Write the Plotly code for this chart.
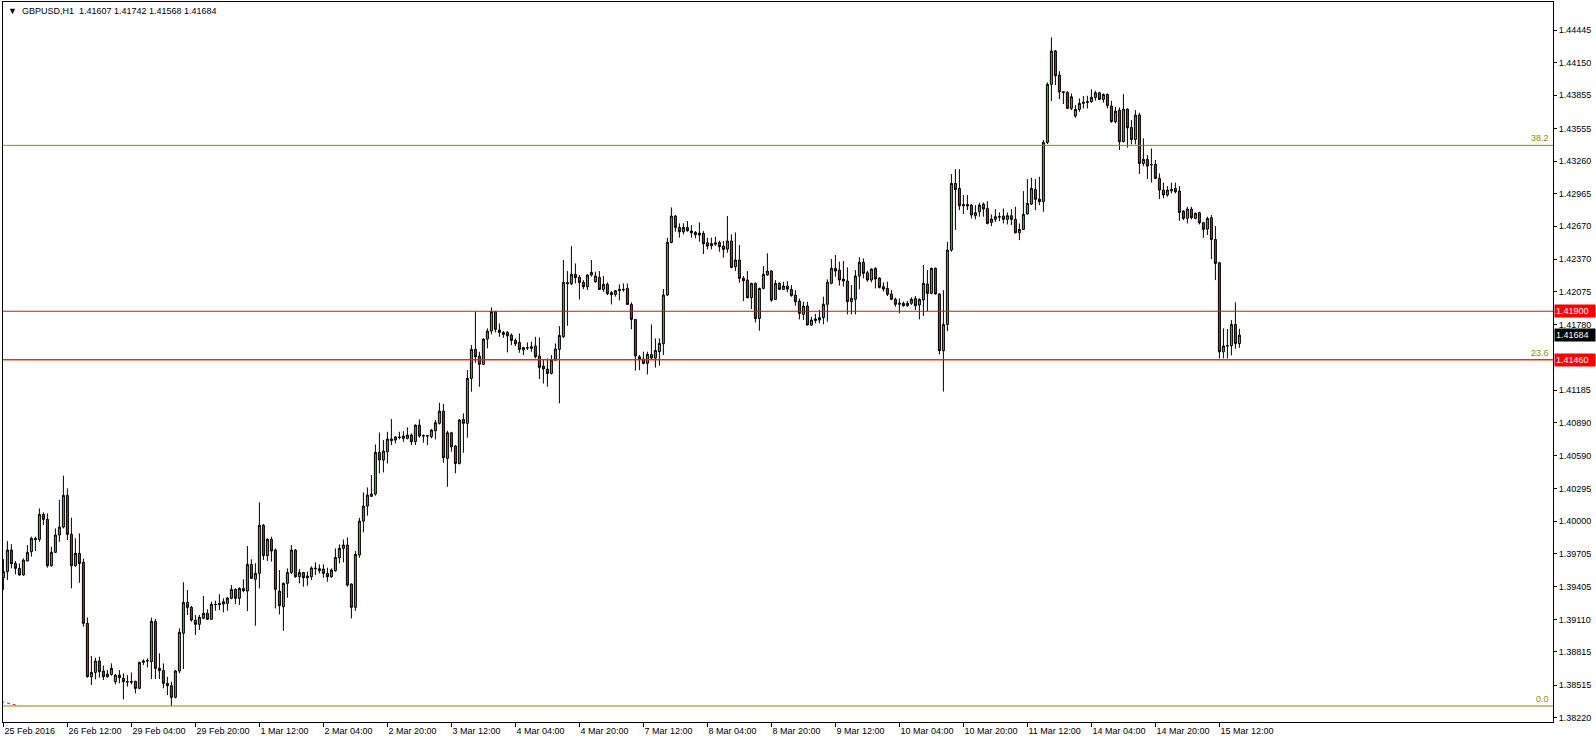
import plotly.graph_objects as go

symbol = "GBPUSD"
timeframe = "H1"

opens = [
    1.39487, 1.39542, 1.39738, 1.39617, 1.39572, 1.39512, 1.39638, 1.39723, 1.39831, 1.39834,
    1.40061, 1.40016, 1.39596, 1.39717, 1.39874, 1.39946, 1.40233, 1.39880, 1.39596, 1.39708,
    1.39626, 1.39074, 1.38591, 1.38630, 1.38733, 1.38642, 1.38591, 1.38612, 1.38546, 1.38606,
    1.38576, 1.38546, 1.38546, 1.38549, 1.38486, 1.38721, 1.38733, 1.38727, 1.39092, 1.38667,
    1.38646, 1.38531, 1.38510, 1.38404, 1.38643, 1.38984, 1.39264, 1.39219, 1.39104, 1.39065,
    1.39120, 1.39165, 1.39111, 1.39246, 1.39243, 1.39249, 1.39255, 1.39301, 1.39382, 1.39301,
    1.39391, 1.39367, 1.39608, 1.39473, 1.39527, 1.39962, 1.39687, 1.39835, 1.39738, 1.39366,
    1.39225, 1.39436, 1.39535, 1.39738, 1.39496, 1.39535, 1.39502, 1.39496, 1.39575, 1.39569,
    1.39566, 1.39526, 1.39496, 1.39551, 1.39668, 1.39753, 1.39783, 1.39430, 1.39219, 1.39692,
    1.40000, 1.40136, 1.40224, 1.40245, 1.40622, 1.40553, 1.40628, 1.40743, 1.40734, 1.40761,
    1.40770, 1.40749, 1.40779, 1.40719, 1.40869, 1.40770, 1.40773, 1.40764, 1.40818, 1.40885,
    1.40996, 1.40568, 1.40800, 1.40679, 1.40522, 1.40921, 1.40885, 1.41292, 1.41555, 1.41494,
    1.41419, 1.41648, 1.41721, 1.41896, 1.41730, 1.41708, 1.41708, 1.41684, 1.41636, 1.41618,
    1.41551, 1.41570, 1.41564, 1.41585, 1.41494, 1.41404, 1.41377, 1.41337, 1.41458, 1.41555,
    1.41669, 1.42161, 1.42149, 1.42234, 1.42207, 1.42161, 1.42122, 1.42228, 1.42167, 1.42207,
    1.42098, 1.42143, 1.42068, 1.42053, 1.42086, 1.42098, 1.42107, 1.41962, 1.41826, 1.41488,
    1.41467, 1.41428, 1.41509, 1.41476, 1.41534, 1.41606, 1.42047, 1.42523, 1.42762, 1.42659,
    1.42620, 1.42659, 1.42626, 1.42614, 1.42608, 1.42605, 1.42520, 1.42493, 1.42520, 1.42523,
    1.42490, 1.42463, 1.42536, 1.42303, 1.42364, 1.42198, 1.42182, 1.42023, 1.42152, 1.41835,
    1.42107, 1.42228, 1.42264, 1.42007, 1.42152, 1.42098, 1.42128, 1.42098, 1.42047, 1.41992,
    1.41872, 1.41947, 1.41775, 1.41815, 1.41821, 1.41842, 1.41963, 1.42153, 1.42289, 1.42273,
    1.42192, 1.42174, 1.41987, 1.42008, 1.42219, 1.42343, 1.42249, 1.42183, 1.42288, 1.42201,
    1.42122, 1.42107, 1.42056, 1.42008, 1.41963, 1.41972, 1.41950, 1.41972, 1.42014, 1.41957,
    1.42002, 1.42147, 1.42062, 1.42289, 1.42056, 1.41543, 1.41781, 1.42454, 1.43057, 1.43012,
    1.42867, 1.42867, 1.42861, 1.42765, 1.42801, 1.42870, 1.42831, 1.42704, 1.42732, 1.42756,
    1.42762, 1.42732, 1.42765, 1.42732, 1.42611, 1.42641, 1.42780, 1.42870, 1.43003, 1.42916,
    1.42892, 1.43429, 1.43954, 1.44256, 1.44038, 1.43887, 1.43881, 1.43737, 1.43667, 1.43727,
    1.43782, 1.43791, 1.43797, 1.43836, 1.43878, 1.43818, 1.43863, 1.43758, 1.43616, 1.43721,
    1.43435, 1.43730, 1.43564, 1.43456, 1.43676, 1.43238, 1.43275, 1.43229, 1.43229, 1.43103,
    1.42997, 1.42952, 1.42991, 1.43012, 1.42988, 1.42807, 1.42741, 1.42825, 1.42741, 1.42792,
    1.42701, 1.42644, 1.42747, 1.42550, 1.42339, 1.41533, 1.41585, 1.41588, 1.41780, 1.41607,
]

highs = [
    1.39656, 1.39819, 1.39792, 1.39638, 1.39617, 1.39662, 1.39783, 1.39859, 1.39859, 1.40115,
    1.40079, 1.40070, 1.39768, 1.39934, 1.40191, 1.40411, 1.40296, 1.40031, 1.39844, 1.39889,
    1.39662, 1.39128, 1.38778, 1.38763, 1.38772, 1.38691, 1.38651, 1.38712, 1.38615, 1.38651,
    1.38621, 1.38606, 1.38630, 1.38555, 1.38727, 1.38748, 1.38757, 1.39126, 1.39114, 1.38803,
    1.38712, 1.38591, 1.38546, 1.38652, 1.39029, 1.39446, 1.39376, 1.39231, 1.39150, 1.39150,
    1.39322, 1.39201, 1.39270, 1.39280, 1.39337, 1.39301, 1.39310, 1.39421, 1.39391, 1.39400,
    1.39473, 1.39774, 1.39654, 1.39618, 1.40170, 1.39974, 1.39844, 1.39859, 1.39753, 1.39557,
    1.39445, 1.39572, 1.39783, 1.39747, 1.39566, 1.39540, 1.39542, 1.39590, 1.39626, 1.39608,
    1.39608, 1.39578, 1.39572, 1.39753, 1.39789, 1.39834, 1.39852, 1.39436, 1.39729, 1.40030,
    1.40260, 1.40305, 1.40417, 1.40694, 1.40803, 1.40734, 1.40809, 1.40924, 1.40770, 1.40809,
    1.40815, 1.40848, 1.40794, 1.40875, 1.40921, 1.40785, 1.40776, 1.40833, 1.40915, 1.41072,
    1.41060, 1.40818, 1.40809, 1.40688, 1.40924, 1.40975, 1.41367, 1.41594, 1.41896, 1.41533,
    1.41654, 1.41745, 1.41935, 1.41902, 1.41790, 1.41721, 1.41721, 1.41699, 1.41654, 1.41699,
    1.41579, 1.41618, 1.41624, 1.41669, 1.41663, 1.41460, 1.41473, 1.41503, 1.41609, 1.41766,
    1.42364, 1.42264, 1.42490, 1.42333, 1.42228, 1.42182, 1.42234, 1.42364, 1.42258, 1.42264,
    1.42219, 1.42161, 1.42083, 1.42092, 1.42143, 1.42152, 1.42152, 1.41980, 1.41829, 1.41503,
    1.41534, 1.41534, 1.41781, 1.41654, 1.41654, 1.42101, 1.42566, 1.42840, 1.42771, 1.42696,
    1.42696, 1.42717, 1.42680, 1.42626, 1.42705, 1.42626, 1.42566, 1.42566, 1.42575, 1.42539,
    1.42536, 1.42762, 1.42596, 1.42614, 1.42499, 1.42219, 1.42264, 1.42158, 1.42161, 1.42113,
    1.42309, 1.42424, 1.42273, 1.42182, 1.42161, 1.42167, 1.42173, 1.42137, 1.42092, 1.42016,
    1.41986, 1.41986, 1.41850, 1.41875, 1.41911, 1.42032, 1.42189, 1.42373, 1.42409, 1.42349,
    1.42355, 1.42298, 1.42138, 1.42273, 1.42388, 1.42379, 1.42267, 1.42288, 1.42298, 1.42207,
    1.42162, 1.42168, 1.42092, 1.42023, 1.42017, 1.41987, 1.41993, 1.42026, 1.42038, 1.42017,
    1.42319, 1.42273, 1.42295, 1.42295, 1.42062, 1.42092, 1.42529, 1.43142, 1.43187, 1.43187,
    1.42952, 1.42952, 1.42870, 1.42861, 1.42882, 1.42885, 1.42897, 1.42777, 1.42825, 1.42795,
    1.42831, 1.42795, 1.42825, 1.42846, 1.42695, 1.42988, 1.43097, 1.43109, 1.43097, 1.43118,
    1.43450, 1.43972, 1.44379, 1.44265, 1.44074, 1.43893, 1.43893, 1.43872, 1.43767, 1.43827,
    1.43848, 1.43851, 1.43909, 1.43896, 1.43887, 1.43872, 1.43872, 1.43806, 1.43752, 1.43746,
    1.43866, 1.43736, 1.43631, 1.43721, 1.43697, 1.43465, 1.43314, 1.43374, 1.43269, 1.43148,
    1.43064, 1.43033, 1.43064, 1.43064, 1.43033, 1.42816, 1.42846, 1.42846, 1.42795, 1.42801,
    1.42710, 1.42756, 1.42771, 1.42671, 1.42348, 1.41745, 1.41739, 1.41820, 1.41980, 1.41742,
]

lows = [
    1.39376, 1.39466, 1.39572, 1.39518, 1.39506, 1.39506, 1.39638, 1.39678, 1.39729, 1.39813,
    1.39964, 1.39578, 1.39587, 1.39711, 1.39813, 1.39934, 1.39828, 1.39391, 1.39587, 1.39442,
    1.39044, 1.38582, 1.38516, 1.38567, 1.38582, 1.38561, 1.38582, 1.38600, 1.38522, 1.38531,
    1.38386, 1.38501, 1.38522, 1.38440, 1.38477, 1.38697, 1.38676, 1.38570, 1.38570, 1.38570,
    1.38486, 1.38425, 1.38326, 1.38395, 1.38622, 1.38661, 1.39150, 1.39089, 1.38969, 1.39014,
    1.39111, 1.39104, 1.39104, 1.39189, 1.39195, 1.39174, 1.39189, 1.39292, 1.39249, 1.39240,
    1.39355, 1.39186, 1.39476, 1.39053, 1.39391, 1.39648, 1.39639, 1.39633, 1.39210, 1.39155,
    1.39007, 1.39306, 1.39520, 1.39487, 1.39436, 1.39406, 1.39415, 1.39466, 1.39511, 1.39526,
    1.39487, 1.39451, 1.39487, 1.39542, 1.39617, 1.39626, 1.39406, 1.39119, 1.39188, 1.39668,
    1.39898, 1.40049, 1.40221, 1.40230, 1.40432, 1.40441, 1.40522, 1.40688, 1.40703, 1.40740,
    1.40718, 1.40740, 1.40688, 1.40688, 1.40755, 1.40710, 1.40688, 1.40749, 1.40740, 1.40875,
    1.40528, 1.40311, 1.40628, 1.40432, 1.40513, 1.40619, 1.40755, 1.41171, 1.41434, 1.41217,
    1.41413, 1.41564, 1.41690, 1.41708, 1.41669, 1.41660, 1.41527, 1.41594, 1.41585, 1.41524,
    1.41503, 1.41548, 1.41533, 1.41473, 1.41286, 1.41245, 1.41217, 1.41328, 1.41449, 1.41066,
    1.41660, 1.41769, 1.42137, 1.42152, 1.42007, 1.42101, 1.42092, 1.42213, 1.42158, 1.42092,
    1.42077, 1.42047, 1.41962, 1.42032, 1.41998, 1.42077, 1.41956, 1.41736, 1.41362, 1.41368,
    1.41419, 1.41328, 1.41458, 1.41389, 1.41407, 1.41503, 1.42038, 1.42514, 1.42620, 1.42566,
    1.42596, 1.42620, 1.42566, 1.42560, 1.42530, 1.42418, 1.42460, 1.42460, 1.42490, 1.42439,
    1.42385, 1.42430, 1.42288, 1.42264, 1.42158, 1.41992, 1.42017, 1.41920, 1.41799, 1.41724,
    1.42098, 1.42222, 1.41986, 1.42001, 1.42092, 1.42092, 1.42071, 1.42032, 1.41950, 1.41826,
    1.41820, 1.41772, 1.41769, 1.41790, 1.41790, 1.41781, 1.41806, 1.42144, 1.42213, 1.42132,
    1.42122, 1.41872, 1.41872, 1.41872, 1.42098, 1.42198, 1.42168, 1.42162, 1.42107, 1.42107,
    1.42077, 1.42038, 1.42002, 1.41941, 1.41881, 1.41941, 1.41941, 1.41957, 1.41911, 1.41827,
    1.41857, 1.41902, 1.42053, 1.42053, 1.41510, 1.41172, 1.41720, 1.42439, 1.42635, 1.42816,
    1.42780, 1.42816, 1.42741, 1.42732, 1.42756, 1.42756, 1.42686, 1.42671, 1.42710, 1.42716,
    1.42695, 1.42686, 1.42680, 1.42605, 1.42544, 1.42635, 1.42777, 1.42861, 1.42816, 1.42861,
    1.42801, 1.43414, 1.43803, 1.43948, 1.43821, 1.43776, 1.43731, 1.43722, 1.43652, 1.43706,
    1.43736, 1.43736, 1.43788, 1.43806, 1.43812, 1.43788, 1.43736, 1.43607, 1.43601, 1.43359,
    1.43429, 1.43380, 1.43411, 1.43411, 1.43142, 1.43214, 1.43097, 1.43066, 1.43097, 1.42916,
    1.42922, 1.42937, 1.42967, 1.42967, 1.42719, 1.42725, 1.42695, 1.42732, 1.42732, 1.42686,
    1.42566, 1.42590, 1.42372, 1.42182, 1.41473, 1.41473, 1.41473, 1.41500, 1.41560, 1.41568,
]

closes = [
    1.39542, 1.39738, 1.39614, 1.39572, 1.39512, 1.39647, 1.39717, 1.39844, 1.39844, 1.40061,
    1.40016, 1.39596, 1.39717, 1.39874, 1.39946, 1.40233, 1.39880, 1.39596, 1.39708, 1.39617,
    1.39074, 1.38591, 1.38630, 1.38733, 1.38636, 1.38591, 1.38615, 1.38667, 1.38606, 1.38582,
    1.38546, 1.38543, 1.38543, 1.38485, 1.38721, 1.38733, 1.38736, 1.39092, 1.38667, 1.38646,
    1.38531, 1.38510, 1.38404, 1.38643, 1.38993, 1.39264, 1.39219, 1.39104, 1.39065, 1.39129,
    1.39165, 1.39111, 1.39246, 1.39243, 1.39255, 1.39270, 1.39304, 1.39382, 1.39301, 1.39391,
    1.39370, 1.39608, 1.39482, 1.39527, 1.39962, 1.39687, 1.39835, 1.39729, 1.39382, 1.39234,
    1.39436, 1.39535, 1.39738, 1.39496, 1.39535, 1.39487, 1.39487, 1.39575, 1.39569, 1.39551,
    1.39526, 1.39496, 1.39557, 1.39671, 1.39753, 1.39783, 1.39421, 1.39219, 1.39698, 1.40000,
    1.40136, 1.40236, 1.40245, 1.40622, 1.40553, 1.40634, 1.40743, 1.40728, 1.40761, 1.40758,
    1.40749, 1.40779, 1.40719, 1.40869, 1.40770, 1.40773, 1.40770, 1.40824, 1.40891, 1.40996,
    1.40574, 1.40800, 1.40673, 1.40522, 1.40915, 1.40885, 1.41292, 1.41555, 1.41488, 1.41419,
    1.41648, 1.41721, 1.41896, 1.41736, 1.41708, 1.41690, 1.41678, 1.41636, 1.41606, 1.41555,
    1.41570, 1.41567, 1.41579, 1.41488, 1.41392, 1.41377, 1.41337, 1.41458, 1.41558, 1.41681,
    1.42161, 1.42149, 1.42234, 1.42204, 1.42161, 1.42122, 1.42228, 1.42252, 1.42219, 1.42098,
    1.42143, 1.42059, 1.42050, 1.42086, 1.42098, 1.42095, 1.41962, 1.41826, 1.41497, 1.41467,
    1.41428, 1.41509, 1.41476, 1.41546, 1.41609, 1.42047, 1.42523, 1.42762, 1.42659, 1.42620,
    1.42659, 1.42629, 1.42611, 1.42593, 1.42590, 1.42511, 1.42490, 1.42514, 1.42508, 1.42484,
    1.42460, 1.42536, 1.42297, 1.42364, 1.42198, 1.42176, 1.42023, 1.42152, 1.41835, 1.42107,
    1.42234, 1.42264, 1.42001, 1.42152, 1.42098, 1.42128, 1.42101, 1.42041, 1.41986, 1.41881,
    1.41947, 1.41775, 1.41820, 1.41830, 1.41842, 1.41963, 1.42162, 1.42289, 1.42264, 1.42183,
    1.42174, 1.41987, 1.42017, 1.42219, 1.42343, 1.42243, 1.42183, 1.42282, 1.42192, 1.42116,
    1.42101, 1.42053, 1.42008, 1.41963, 1.41972, 1.41950, 1.41972, 1.42008, 1.41950, 1.42008,
    1.42153, 1.42062, 1.42289, 1.42056, 1.41543, 1.41781, 1.42454, 1.43057, 1.43003, 1.42855,
    1.42855, 1.42852, 1.42771, 1.42792, 1.42861, 1.42825, 1.42695, 1.42735, 1.42756, 1.42753,
    1.42732, 1.42765, 1.42732, 1.42611, 1.42641, 1.42777, 1.42876, 1.43012, 1.42913, 1.42892,
    1.43429, 1.43954, 1.44256, 1.44032, 1.43887, 1.43881, 1.43737, 1.43842, 1.43727, 1.43782,
    1.43791, 1.43797, 1.43836, 1.43878, 1.43818, 1.43863, 1.43761, 1.43616, 1.43712, 1.43435,
    1.43730, 1.43561, 1.43456, 1.43676, 1.43238, 1.43275, 1.43214, 1.43226, 1.43103, 1.42997,
    1.42952, 1.42997, 1.43003, 1.42982, 1.42795, 1.42741, 1.42825, 1.42747, 1.42786, 1.42701,
    1.42641, 1.42741, 1.42550, 1.42333, 1.41533, 1.41585, 1.41588, 1.41780, 1.41607, 1.41684,
]

x_tick_labels = [
    "25 Feb 2016", "26 Feb 12:00", "29 Feb 04:00", "29 Feb 20:00", "1 Mar 12:00",
    "2 Mar 04:00", "2 Mar 20:00", "3 Mar 12:00", "4 Mar 04:00", "4 Mar 20:00",
    "7 Mar 12:00", "8 Mar 04:00", "8 Mar 20:00", "9 Mar 12:00", "10 Mar 04:00",
    "10 Mar 20:00", "11 Mar 12:00", "14 Mar 04:00", "14 Mar 20:00", "15 Mar 12:00",
]
bars_per_label = 16

y_tick_values = [
    1.44445, 1.44150, 1.43855, 1.43555, 1.43260, 1.42965, 1.42670, 1.42370, 1.42075,
    1.41780, 1.41185, 1.40890, 1.40590, 1.40295, 1.40000, 1.39705, 1.39405,
    1.39110, 1.38815, 1.38515, 1.38220,
]

level_lines = [1.41900, 1.41460]

fib_levels = [0.0, 23.6, 38.2]
fib_low_price = 1.38326
fib_high_price = 1.51614
fib_low_bar = 4
fib_high_bar = -1480

y_range = [1.38181, 1.44700]
x_range = [-0.1, 387.4]

FONT = "Liberation Sans, Arial, sans-serif"
OLIVE = "#8c8c00"
RED = "#ff0000"
GREEN_FILL = "#33c233"
RED_FILL = "#f01414"

bars = list(range(len(opens)))

fig = go.Figure()

fig.add_trace(go.Scatter(
    x=[fib_high_bar, fib_low_bar], y=[fib_high_price, fib_low_price],
    mode="lines", line=dict(color=RED, width=1, dash="dot"),
    hoverinfo="skip", showlegend=False, cliponaxis=True,
))

fig.add_trace(go.Candlestick(
    x=bars, open=opens, high=highs, low=lows, close=closes,
    increasing=dict(line=dict(color="black", width=1), fillcolor=GREEN_FILL),
    decreasing=dict(line=dict(color="black", width=1), fillcolor=RED_FILL),
    whiskerwidth=0, showlegend=False, hoverinfo="skip",
))

shapes = []
annotations = []
for lvl in fib_levels:
    price = fib_low_price + lvl / 100.0 * (fib_high_price - fib_low_price)
    shapes.append(dict(type="line", xref="paper", x0=0, x1=1, yref="y", y0=price, y1=price,
                       line=dict(color=OLIVE, width=1), layer="above"))
    annotations.append(dict(xref="paper", x=1, xanchor="right", xshift=-2, yref="y", y=price,
                            yanchor="bottom", text=f"{lvl:.1f}", showarrow=False,
                            font=dict(family=FONT, size=9, color=OLIVE)))
for lvl in level_lines:
    shapes.append(dict(type="line", xref="paper", x0=0, x1=1, yref="y", y0=lvl, y1=lvl,
                       line=dict(color=RED, width=1), layer="above"))
    annotations.append(dict(xref="paper", x=1, xanchor="left", xshift=1, yref="y", y=lvl,
                            yanchor="middle", text=f"{lvl:.5f}", showarrow=False,
                            bgcolor=RED, width=38, align="left", borderpad=1,
                            font=dict(family=FONT, size=9, color="white")))

current = closes[-1]
annotations.append(dict(xref="paper", x=1, xanchor="left", xshift=1, yref="y", y=current,
                        yanchor="middle", text=f"{current:.5f}", showarrow=False,
                        bgcolor="black", width=38, align="left", borderpad=1,
                        font=dict(family=FONT, size=9, color="white")))

title_text = (f"\u25bc  {symbol},{timeframe}  {opens[-1]:.5f} {highs[-1]:.5f} "
              f"{lows[-1]:.5f} {closes[-1]:.5f}")
annotations.append(dict(xref="paper", yref="paper", x=0, y=1, xanchor="left", yanchor="top",
                        xshift=3, yshift=-2, text=title_text, showarrow=False,
                        font=dict(family=FONT, size=9, color="black")))

fig.update_layout(
    width=1596, height=744,
    margin=dict(l=3, r=43, t=2, b=22),
    paper_bgcolor="white", plot_bgcolor="white",
    showlegend=False,
    boxgap=0.5, boxgroupgap=0,
    shapes=shapes, annotations=annotations,
    font=dict(family=FONT, size=9, color="black"),
    xaxis=dict(
        range=x_range, rangeslider=dict(visible=False),
        tickvals=[i * bars_per_label for i in range(len(x_tick_labels))],
        ticktext=x_tick_labels, ticks="outside", ticklen=4, tickcolor="black",
        ticklabelposition="outside right",
        showline=True, mirror=True, linecolor="black", linewidth=1,
        showgrid=False, zeroline=False,
        tickfont=dict(family=FONT, size=9, color="black"),
    ),
    yaxis=dict(
        range=y_range, side="right",
        tickvals=y_tick_values, ticktext=[f"{v:.5f}" for v in y_tick_values],
        ticks="outside", ticklen=3, tickcolor="black",
        showline=True, mirror=True, linecolor="black", linewidth=1,
        showgrid=False, zeroline=False,
        tickfont=dict(family=FONT, size=9, color="black"),
    ),
)

fig.write_html(
    "out.html",
    config={"displayModeBar": False, "staticPlot": True},
    post_script="document.body.style.margin='0';document.body.style.overflow='hidden';",
)
